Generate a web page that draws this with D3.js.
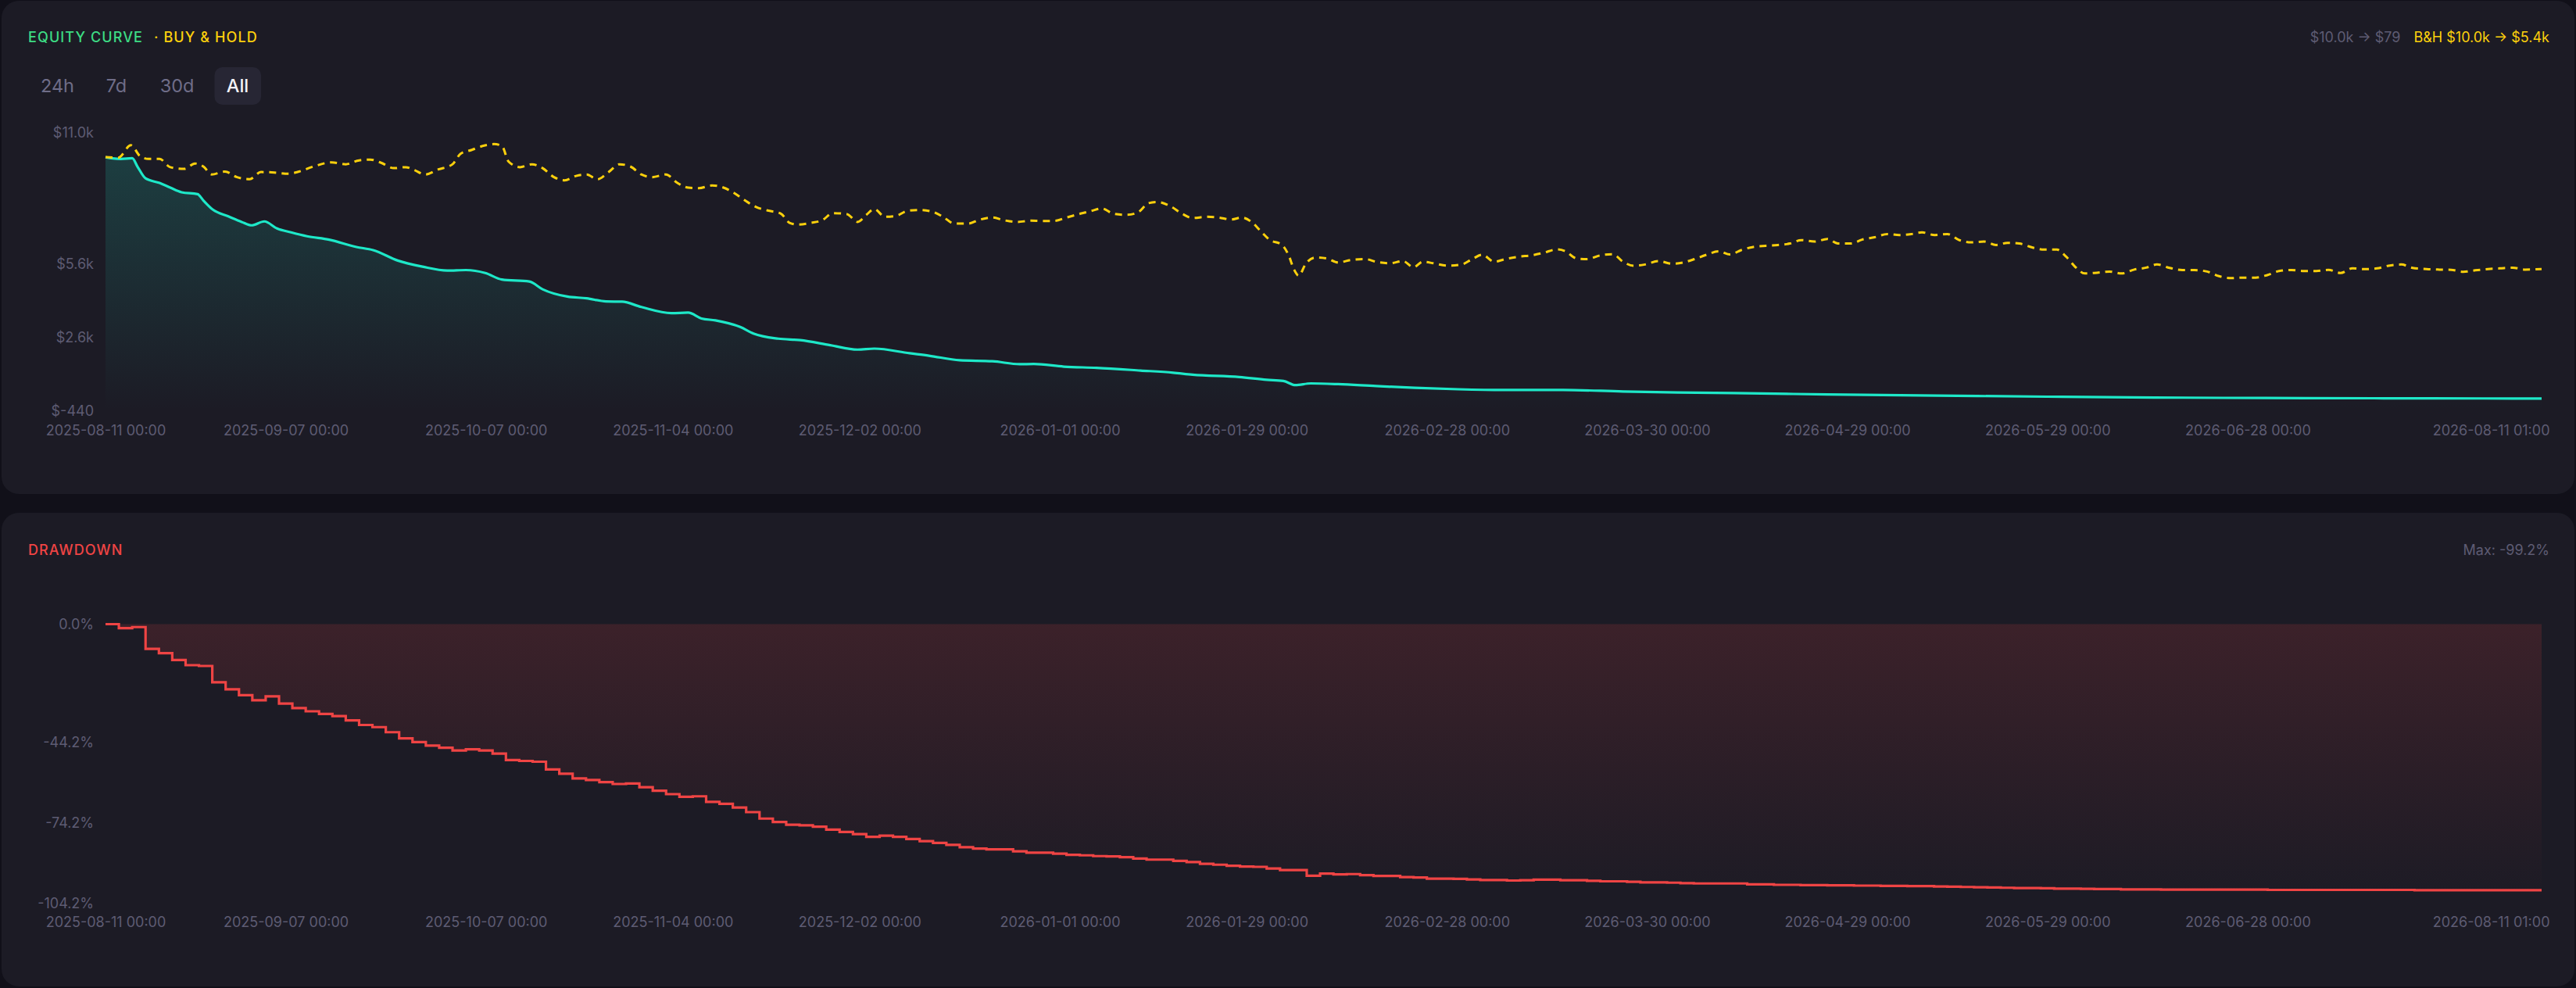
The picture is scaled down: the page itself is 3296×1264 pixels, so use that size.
<!DOCTYPE html>
<html>
<head>
<meta charset="utf-8">
<script src="https://cdn.jsdelivr.net/npm/d3@7"></script>
<style>
  html, body { margin: 0; padding: 0; background: #111019; }
  svg { display: block; font-family: Inter, "Noto Sans", sans-serif; }
</style>
</head>
<body>
<svg id="chart" width="3296" height="1264"></svg>
<script>
// ---------- DATA ----------
const startTime = "2025-08-11T00:00:00Z";
const endTime = "2026-08-11T01:00:00Z";

const xTickLabels = [
  "2025-08-11T00:00:00Z", "2025-09-07T00:00:00Z", "2025-10-07T00:00:00Z", "2025-11-04T00:00:00Z",
  "2025-12-02T00:00:00Z", "2026-01-01T00:00:00Z", "2026-01-29T00:00:00Z", "2026-02-28T00:00:00Z",
  "2026-03-30T00:00:00Z", "2026-04-29T00:00:00Z", "2026-05-29T00:00:00Z", "2026-06-28T00:00:00Z",
  "2026-08-11T01:00:00Z"
];
const equityTicks = [11000, 5600, 2600, -440];
const drawdownTicks = [0, -44.2, -74.2, -104.2];

// strategy equity (days since start, USD)
const equityDays = [0, 1.1, 2.3, 4.0, 4.8, 6.0, 8.1, 9.7, 11.4, 13.8, 14.7, 16.1, 18.4, 20.4, 21.9, 23.8, 25.7, 27.8,
  30.2, 33.5, 37.6, 40.1, 43.8, 47.5, 51.2, 54.0, 56.9, 59.4, 63.5, 65.5, 69.2, 72.1, 75.0, 77.4, 80.3, 84.8,
  87.3, 89.3, 91.4, 95.1, 97.1, 100.8, 104.1, 108.6, 112.7, 115.2, 120.5, 123.4, 128.0, 132.9, 137.0, 139.1,
  143.6, 148.5, 155.1, 160.0, 162.9, 169.9, 174.0, 176.5, 178.3, 180.6, 184.7, 190.4, 196.2, 202.7, 209.3,
  218.4, 227.4, 235.6, 244, 258, 274.5, 291, 307, 323.6, 340, 356.4, 365.0417];
const equityValues = [10000, 9950, 9930, 9960, 9610, 9130, 8940, 8750, 8560, 8480, 8210, 7840, 7570, 7340, 7200, 7360, 7070, 6910,
  6750, 6610, 6310, 6180, 5750, 5500, 5340, 5360, 5240, 4970, 4890, 4570, 4270, 4200, 4070, 4060, 3840, 3590,
  3610, 3370, 3290, 3020, 2750, 2540, 2480, 2270, 2090, 2130, 1940, 1840, 1650, 1610, 1490, 1500,
  1390, 1340, 1230, 1140, 1060, 960, 850, 800, 630, 700, 670, 590, 520, 460, 430,
  430, 370, 330, 300, 250, 200, 155, 120, 100, 90, 82, 79];

// buy & hold (days since start, thousands USD)
const bhDays = [0, 1.9, 3.8, 5.2, 6.45, 8.1, 9.7, 11.8, 13.4, 14.7, 15.9, 17.9, 19.7, 21.6, 23.3, 25.3, 27.4, 29.0,
  31.1, 33.9, 36.0, 38.0, 39.7, 41.3, 43.2, 45.0, 46.2, 47.9, 49.9, 52.0, 53.2, 54.9, 56.5, 58.2, 59.4, 60.4,
  62.1, 63.9, 65.5, 67.2, 68.8, 70.5, 72.1, 73.7, 75.4, 77.0, 78.7, 80.3, 81.9, 84.0, 85.6, 87.3, 88.9, 90.9,
  92.6, 94.3, 95.9, 97.5, 99.2, 101.2, 102.5, 103.7, 105.7, 107.4, 109.0, 111.1, 112.7, 114.0, 115.2, 116.8,
  118.5, 120.1, 122.0, 123.8, 125.5, 127.2, 129.2, 131.1, 132.9, 134.6, 136.6, 138.7, 140.3, 142.1, 144.0,
  146.1, 147.7, 149.3, 151.0, 153.0, 154.7, 156.3, 157.6, 159.6, 161.3, 162.9, 165.0, 166.8, 168.7, 170.3,
  171.9, 173.2, 174.4, 176.3, 177.3, 178.1, 178.8, 179.9, 181.4, 183.0, 184.7, 186.7, 188.8, 190.4, 192.5,
  194.4, 196.0, 197.4, 199.0, 201.1, 203.2, 204.8, 206.3, 208.1, 209.7, 211.8, 213.8, 215.5, 217.5, 218.8,
  220.4, 222.0, 224.1, 225.9, 227.4, 229.0, 230.7, 232.7, 234.8, 236.4, 238.1, 239.7, 241.8, 243.4, 245.1,
  246.9, 248.8, 250.6, 252.4, 254.1, 256.1, 258.0, 259.6, 261.6, 263.2, 265.1, 267.0, 268.8, 270.6, 272.2,
  274.1, 276.0, 277.8, 279.6, 281.5, 283.3, 285.0, 286.8, 288.7, 290.5, 292.4, 293.8, 295.2, 296.6, 298.4,
  300.3, 302.1, 304.0, 305.8, 307.4, 309.3, 311.2, 313.0, 314.9, 316.7, 318.5, 320.4, 322.2, 324.0, 325.7,
  327.6, 329.4, 331.3, 333.1, 334.9, 336.7, 338.5, 340.4, 342.1, 344.0, 345.7, 347.8, 349.7, 351.5, 353.3,
  355.1, 357.0, 358.8, 360.7, 362.5, 365.0417];
const bhValues = [10.00, 9.98, 10.49, 10.04, 9.93, 9.93, 9.59, 9.52, 9.74, 9.61, 9.29, 9.41, 9.18, 9.10, 9.39, 9.37, 9.32, 9.41,
  9.61, 9.79, 9.71, 9.87, 9.90, 9.77, 9.55, 9.59, 9.48, 9.29, 9.50, 9.71, 10.14, 10.30, 10.46, 10.54, 10.46, 9.82,
  9.59, 9.71, 9.55, 9.18, 9.05, 9.23, 9.29, 9.09, 9.39, 9.71, 9.61, 9.29, 9.18, 9.29, 8.96, 8.75, 8.73, 8.84,
  8.75, 8.51, 8.21, 7.95, 7.81, 7.68, 7.30, 7.23, 7.30, 7.41, 7.70, 7.66, 7.34, 7.63, 7.87, 7.55,
  7.59, 7.79, 7.83, 7.77, 7.55, 7.27, 7.27, 7.44, 7.52, 7.41, 7.34, 7.39, 7.38, 7.38, 7.52,
  7.68, 7.79, 7.89, 7.68, 7.63, 7.73, 8.11, 8.16, 7.98, 7.68, 7.50, 7.55, 7.52, 7.44, 7.52,
  7.30, 6.93, 6.61, 6.39, 5.96, 5.38, 5.13, 5.64, 5.88, 5.84, 5.67, 5.78, 5.81, 5.70, 5.64,
  5.73, 5.48, 5.70, 5.64, 5.54, 5.59, 5.81, 5.99, 5.70, 5.81, 5.91, 5.97, 6.07, 6.21, 6.13,
  5.84, 5.81, 5.97, 6.01, 5.70, 5.54, 5.59, 5.73, 5.62, 5.67, 5.81, 5.97, 6.13, 6.00, 6.18,
  6.31, 6.36, 6.39, 6.45, 6.59, 6.53, 6.64, 6.45, 6.45, 6.61, 6.71, 6.84, 6.80, 6.84, 6.91,
  6.80, 6.84, 6.59, 6.50, 6.53, 6.39, 6.48, 6.45, 6.29, 6.20, 6.20, 5.91, 5.48, 5.22, 5.25,
  5.30, 5.22, 5.38, 5.46, 5.59, 5.45, 5.36, 5.36, 5.30, 5.11, 5.03, 5.05, 5.05, 5.16, 5.32,
  5.36, 5.32, 5.32, 5.37, 5.24, 5.43, 5.40, 5.43, 5.54, 5.59, 5.45, 5.40, 5.38, 5.37, 5.29,
  5.35, 5.40, 5.43, 5.46, 5.38, 5.40];

// drawdown %, one value every 2 days, last value at end time
const drawdownValues = [
  0, -1.5, -1.1, -9.2, -10.8, -13.4, -15.3, -15.6, -21.7, -24.3, -26.5, -28.4, -26.9, -29.6, -31.3, -32.5,
  -33.5, -34.3, -35.9, -37.6, -38.4, -40.3, -42.6, -44.0, -45.3, -46.1, -47.1, -46.7, -47.1, -48.3, -50.7,
  -51.0, -51.3, -54.2, -55.8, -57.5, -58.1, -58.9, -59.6, -59.4, -60.8, -62.1, -63.4, -64.4, -64.2, -66.3,
  -67.0, -68.4, -70.1, -72.5, -73.8, -74.8, -75.0, -75.5, -76.6, -77.5, -78.3, -79.3, -78.9, -79.3, -80.1,
  -80.9, -81.6, -82.3, -83.2, -83.7, -84.0, -84.0, -84.7, -85.2, -85.2, -85.6, -86.0, -86.2, -86.5, -86.6,
  -86.9, -87.4, -87.8, -87.8, -88.3, -88.7, -89.4, -89.7, -90.1, -90.4, -90.5, -91.1, -91.7, -91.7, -93.8,
  -93.0, -93.3, -93.2, -93.6, -93.9, -93.9, -94.3, -94.5, -94.9, -94.9, -95.0, -95.2, -95.4, -95.4, -95.6,
  -95.5, -95.3, -95.3, -95.5, -95.5, -95.7, -95.9, -95.9, -96.1, -96.3, -96.3, -96.4, -96.6, -96.7, -96.7,
  -96.7, -96.7, -97.0, -97.0, -97.2, -97.2, -97.3, -97.3, -97.4, -97.4, -97.5, -97.5, -97.6, -97.6, -97.7,
  -97.7, -97.8, -97.9, -98.0, -98.1, -98.2, -98.3, -98.4, -98.4, -98.5, -98.6, -98.6, -98.7, -98.8, -98.8,
  -98.9, -98.9, -98.9, -99.0, -99.0, -99.0, -99.0, -99.0, -99.0, -99.0, -99.0, -99.1, -99.1, -99.1, -99.1,
  -99.1, -99.1, -99.1, -99.1, -99.1, -99.1, -99.1, -99.2, -99.2, -99.2, -99.2, -99.2, -99.2, -99.2, -99.2,
  -99.2, -99.2, -99.2
];
const rangeButtons = ["24h", "7d", "30d", "All"];

// ---------- SETUP ----------
const DAY = 86400000;
const t0 = new Date(startTime), t1 = new Date(endTime);
const toDate = d => new Date(t0.getTime() + d * DAY);
const ddDates = drawdownValues.map((v, i) => i === drawdownValues.length - 1 ? t1 : toDate(2 * i));

const svg = d3.select("#chart");
const C = {
  bg: "#111019", card: "#1c1b25", label: "#5e5c73", green: "#3ddc84", yellow: "#fcd00c",
  teal: "#1ee8c8", red: "#ef4444", btn: "#6f6d88", btnActive: "#f2f2f7", btnBg: "#272634"
};

const x = d3.scaleUtc().domain([t0, t1]).range([135, 3252]);
const yEq = d3.scaleLinear().domain([-440, 11000]).range([526, 170]);
const yDd = d3.scaleLinear().domain([-104.2, 0]).range([1156, 798.5]);

// cards
svg.append("rect").attr("x", 2).attr("y", 1).attr("width", 3292).attr("height", 631).attr("rx", 22).attr("fill", C.card);
svg.append("rect").attr("x", 2).attr("y", 656).attr("width", 3292).attr("height", 606).attr("rx", 22).attr("fill", C.card);

const defs = svg.append("defs");
const g1 = defs.append("linearGradient").attr("id", "eqGrad").attr("gradientUnits", "userSpaceOnUse")
  .attr("x1", 0).attr("x2", 0).attr("y1", yEq(10000)).attr("y2", yEq(-440));
g1.append("stop").attr("offset", 0).attr("stop-color", C.teal).attr("stop-opacity", 0.17);
g1.append("stop").attr("offset", 1).attr("stop-color", C.teal).attr("stop-opacity", 0);
const g2 = defs.append("linearGradient").attr("id", "ddGrad").attr("gradientUnits", "userSpaceOnUse")
  .attr("x1", 0).attr("x2", 0).attr("y1", yDd(0)).attr("y2", yDd(-104.2));
g2.append("stop").attr("offset", 0).attr("stop-color", C.red).attr("stop-opacity", 0.15);
g2.append("stop").attr("offset", 1).attr("stop-color", C.red).attr("stop-opacity", 0);

// ---------- HEADERS ----------
const title = svg.append("text").attr("x", 36).attr("y", 54).attr("font-size", 18).attr("font-weight", 500)
  .attr("letter-spacing", 1.1);
title.append("tspan").attr("fill", C.green).text("EQUITY CURVE");
title.append("tspan").attr("fill", C.yellow).attr("dx", 14).text("· BUY & HOLD");

const hdr = svg.append("text").attr("x", 3262).attr("y", 54).attr("font-size", 18).attr("text-anchor", "end");
hdr.append("tspan").attr("fill", C.label).text("$10.0k → $79");
hdr.append("tspan").attr("fill", C.yellow).attr("dx", 17).text("B&H $10.0k → $5.4k");

const btnX = [73.5, 149, 226.5, 304];
svg.append("rect").attr("x", 274.5).attr("y", 86).attr("width", 59.5).attr("height", 48).attr("rx", 10).attr("fill", C.btnBg);
svg.selectAll("text.btn").data(rangeButtons).join("text").attr("class", "btn")
  .attr("x", (d, i) => btnX[i]).attr("y", 118).attr("text-anchor", "middle").attr("font-size", 23.5)
  .attr("fill", d => d === "All" ? C.btnActive : C.btn).attr("font-weight", d => d === "All" ? 500 : 400).text(d => d);

svg.append("text").attr("x", 36).attr("y", 710).attr("font-size", 18).attr("font-weight", 500)
  .attr("letter-spacing", 1.1).attr("fill", C.red).text("DRAWDOWN");
svg.append("text").attr("x", 3262).attr("y", 710).attr("font-size", 18).attr("text-anchor", "end")
  .attr("fill", C.label).text("Max: -99.2%");

// ---------- AXES ----------
const fmtDate = d3.utcFormat("%Y-%m-%d %H:%M");
function xAxis(yPos) {
  const g = svg.append("g").attr("transform", `translate(0,${yPos})`)
    .call(d3.axisBottom(x).tickValues(xTickLabels.map(s => new Date(s))).tickFormat(fmtDate).tickSize(0).tickPadding(0));
  g.select(".domain").remove();
  g.selectAll("text").attr("y", 0).attr("dy", "0.35em").attr("fill", C.label)
    .attr("font-size", 18).attr("font-family", "Inter, sans-serif");
  g.selectAll(".tick:last-of-type text").attr("text-anchor", "end").attr("dx", 10);
}
function yAxis(scale, ticks, fmt) {
  const g = svg.append("g").attr("transform", "translate(120,0)")
    .call(d3.axisLeft(scale).tickValues(ticks).tickFormat(fmt).tickSize(0).tickPadding(0));
  g.select(".domain").remove();
  g.selectAll("text").attr("fill", C.label).attr("font-size", 18).attr("font-family", "Inter, sans-serif");
}
xAxis(551);
xAxis(1180);
yAxis(yEq, equityTicks, v => v < 0 ? "$" + v : "$" + (v / 1000).toFixed(1) + "k");
yAxis(yDd, drawdownTicks, v => v.toFixed(1) + "%");

// ---------- EQUITY PANEL ----------
const eqData = equityDays.map((d, i) => ({ t: toDate(d), v: equityValues[i] }));
const bhData = bhDays.map((d, i) => ({ t: toDate(d), v: bhValues[i] * 1000 }));

svg.append("path").datum(eqData)
  .attr("d", d3.area().x(d => x(d.t)).y0(yEq(-440)).y1(d => yEq(d.v)).curve(d3.curveMonotoneX))
  .attr("fill", "url(#eqGrad)");
svg.append("path").datum(eqData)
  .attr("d", d3.line().x(d => x(d.t)).y(d => yEq(d.v)).curve(d3.curveMonotoneX))
  .attr("fill", "none").attr("stroke", C.teal).attr("stroke-width", 3.2).attr("stroke-linejoin", "round");
svg.append("path").datum(bhData)
  .attr("d", d3.line().x(d => x(d.t)).y(d => yEq(d.v)).curve(d3.curveMonotoneX))
  .attr("fill", "none").attr("stroke", C.yellow).attr("stroke-width", 3).attr("stroke-dasharray", "9,7");

// ---------- DRAWDOWN PANEL ----------
const ddData = drawdownValues.map((v, i) => ({ t: ddDates[i], v }));
svg.append("path").datum(ddData)
  .attr("d", d3.area().x(d => x(d.t)).y0(yDd(0)).y1(d => yDd(d.v)).curve(d3.curveStepAfter))
  .attr("fill", "url(#ddGrad)");
svg.append("path").datum(ddData)
  .attr("d", d3.line().x(d => x(d.t)).y(d => yDd(d.v)).curve(d3.curveStepAfter))
  .attr("fill", "none").attr("stroke", C.red).attr("stroke-width", 3.2);
</script>
</body>
</html>
